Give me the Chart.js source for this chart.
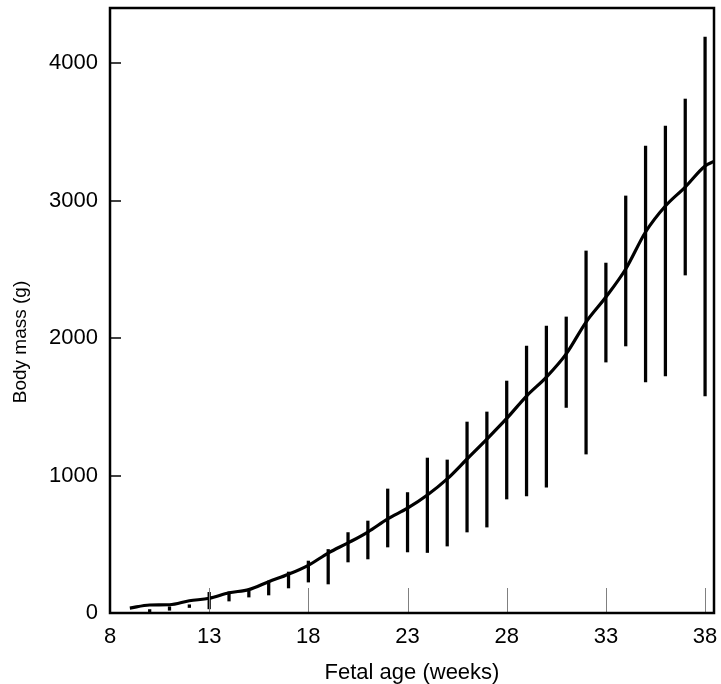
<!DOCTYPE html>
<html>
<head>
<meta charset="utf-8">
<script src="https://cdn.jsdelivr.net/npm/chart.js@4.4.1/dist/chart.umd.min.js"></script>
<style>
  html, body { margin: 0; padding: 0; background: #fff; }
  #wrap { width: 721px; height: 684px; }
</style>
</head>
<body>
<div id="wrap"><canvas id="c" width="721" height="684"></canvas></div>
<script>
// ---- data ----
const meanWeeks = [9, 10, 11, 12, 13, 14, 15, 16, 17, 18, 19, 20, 21, 22, 23, 24, 25, 26, 27, 28, 29, 30, 31, 32, 33, 34, 35, 36, 37, 38, 38.45];
const meanMass  = [35, 58, 60, 89, 107, 147, 170, 228, 282, 347, 436, 510, 589, 684, 762, 858, 975, 1120, 1265, 1415, 1578, 1716, 1885, 2116, 2298, 2502, 2771, 2960, 3098, 3251, 3285];

const barWeeks = [10, 11, 12, 13, 14, 15, 16, 17, 18, 19, 20, 21, 22, 23, 24, 25, 26, 27, 28, 29, 30, 31, 32, 33, 34, 35, 36, 37, 38];
const barLow   = [5, 20, 40, 30, 87, 116, 131, 182, 225, 211, 371, 393, 480, 444, 440, 487, 589, 625, 829, 851, 916, 1495, 1156, 1825, 1942, 1680, 1724, 2458, 1578];
const barHigh  = [25, 45, 60, 150, 153, 160, 233, 298, 378, 462, 585, 669, 902, 876, 1127, 1113, 1389, 1462, 1687, 1942, 2087, 2153, 2633, 2545, 3033, 3396, 3542, 3738, 4189];

const xTickValues = [8, 13, 18, 23, 28, 33, 38];
const yTickValues = [0, 1000, 2000, 3000, 4000];
const xTitle = 'Fetal age (weeks)';
const yTitle = 'Body mass (g)';

const FONT = "'Liberation Sans', Arial, sans-serif";

// frame, inside tick marks and the y-axis title (centred on the canvas height)
const framePlugin = {
  id: 'frame',
  afterDraw(chart) {
    const {ctx, chartArea: a, scales} = chart;
    ctx.save();
    // x ticks (grey, inside, pointing up)
    ctx.strokeStyle = '#808080';
    ctx.lineWidth = 1;
    xTickValues.forEach(v => {
      if (v === scales.x.min) return;
      const px = Math.round(scales.x.getPixelForValue(v)) + 0.5;
      ctx.beginPath();
      ctx.moveTo(px, a.bottom);
      ctx.lineTo(px, a.bottom - 25);
      ctx.stroke();
    });
    // y ticks (black, inside, pointing right)
    ctx.strokeStyle = '#000';
    ctx.lineWidth = 1.5;
    yTickValues.forEach(v => {
      if (v === 0) return;
      const py = Math.round(scales.y.getPixelForValue(v));
      ctx.beginPath();
      ctx.moveTo(a.left, py);
      ctx.lineTo(a.left + 11, py);
      ctx.stroke();
    });
    // frame
    ctx.strokeStyle = '#000';
    ctx.lineWidth = 2.5;
    ctx.strokeRect(a.left, a.top, a.right - a.left, a.bottom - a.top);
    // y title
    ctx.translate(21, chart.height / 2);
    ctx.rotate(-Math.PI / 2);
    ctx.fillStyle = '#000';
    ctx.font = "19px " + FONT;
    ctx.textAlign = 'center';
    ctx.textBaseline = 'middle';
    ctx.fillText(yTitle, 0, 0);
    ctx.restore();
  }
};

new Chart(document.getElementById('c'), {
  type: 'bar',
  data: {
    datasets: [
      {
        type: 'line',
        label: 'Mean',
        data: meanWeeks.map((w, i) => ({x: w, y: meanMass[i]})),
        borderColor: '#000',
        borderWidth: 3.2,
        pointRadius: 0,
        tension: 0.4,
        cubicInterpolationMode: 'monotone',
        fill: false,
        order: 0
      },
      {
        type: 'bar',
        label: 'Range',
        data: barWeeks.map((w, i) => ({x: w, y: [barLow[i], barHigh[i]]})),
        backgroundColor: '#000',
        borderWidth: 0,
        barThickness: 2.6,
        grouped: false,
        order: 1
      }
    ]
  },
  options: {
    responsive: false,
    maintainAspectRatio: false,
    animation: false,
    devicePixelRatio: 1,
    layout: { padding: { top: 8, right: 7, left: 0, bottom: 0 } },
    plugins: { legend: { display: false }, tooltip: { enabled: false } },
    scales: {
      x: {
        type: 'linear',
        offset: false,
        min: 8,
        max: 38.45,
        grid: { display: false, drawTicks: false, offset: false },
        border: { display: false },
        afterBuildTicks(scale) { scale.ticks = xTickValues.map(v => ({value: v})); },
        afterFit(scale) { scale.height = 71; scale.paddingLeft = 0; scale.paddingRight = 0; },
        ticks: { color: '#000', font: { family: FONT, size: 22 }, padding: 11, maxRotation: 0, autoSkip: false,
                 callback: v => String(v) },
        title: { display: true, text: xTitle, color: '#000', font: { family: FONT, size: 22, lineHeight: 1.0 }, padding: { top: 0, bottom: 0 } }
      },
      y: {
        type: 'linear',
        min: 0,
        max: 4400,
        grid: { display: false, drawTicks: false },
        border: { display: false },
        afterBuildTicks(scale) { scale.ticks = yTickValues.map(v => ({value: v})); },
        afterFit(scale) { scale.width = 110; scale.paddingTop = 0; scale.paddingBottom = 0; },
        ticks: { color: '#000', font: { family: FONT, size: 22 }, padding: 12, callback: v => String(v) },
        title: { display: false }
      }
    }
  },
  plugins: [framePlugin]
});
</script>
</body>
</html>
